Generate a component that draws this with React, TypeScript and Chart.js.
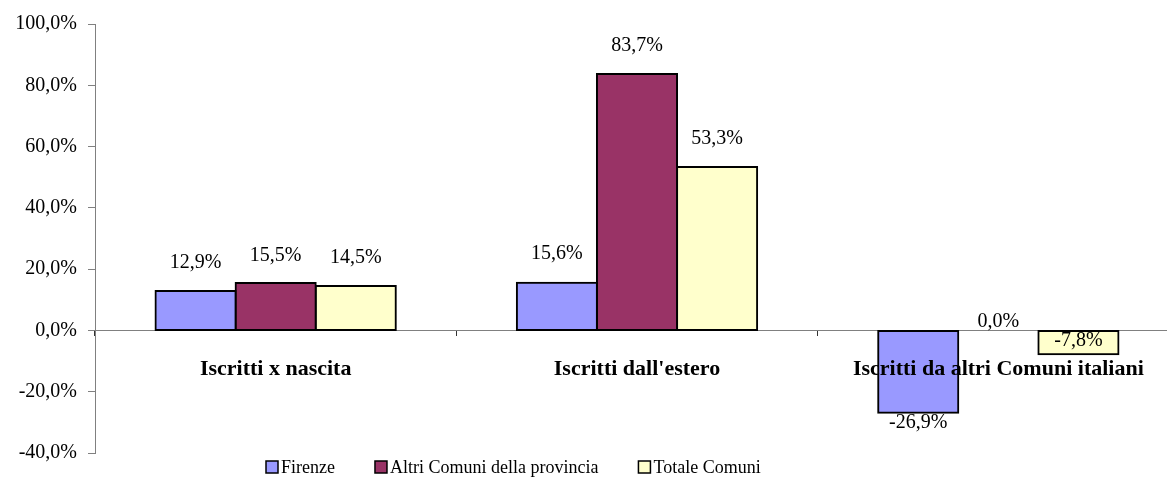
import React, { useEffect, useRef } from "react";
import { Chart, registerables } from "chart.js";

Chart.register(...registerables);

const categories = ["Iscritti x nascita", "Iscritti dall'estero", "Iscritti da altri Comuni italiani"];
const seriesNames = ["Firenze", "Altri Comuni della provincia", "Totale Comuni"];
const firenze = [12.9, 15.6, -26.9];
const altriComuni = [15.5, 83.7, 0.0];
const totaleComuni = [14.5, 53.3, -7.8];
const yTicks = [-40, -20, 0, 20, 40, 60, 80, 100];

const colors = ["#9999FF", "#993366", "#FFFFCC"];
const FONT = "'Liberation Serif', 'Times New Roman', serif";
// vertical offset of each value label from the bar end (style, per point)
const labelOffsets = [
  [-28, -29, 10],
  [-27, -28, -9],
  [-28, -28, -14],
];

const fmt = (v: number) => v.toFixed(1).replace(".", ",") + "%";

const valueLabels = {
  id: "valueLabels",
  afterDatasetsDraw(chart: any) {
    const ctx = chart.ctx;
    ctx.save();
    ctx.font = `20px ${FONT}`;
    ctx.fillStyle = "#000";
    ctx.textAlign = "center";
    ctx.textBaseline = "middle";
    chart.data.datasets.forEach((ds: any, di: number) => {
      const meta = chart.getDatasetMeta(di);
      meta.data.forEach((bar: any, i: number) => {
        const v = ds.data[i];
        ctx.fillText(fmt(v), bar.x, bar.y + labelOffsets[di][i]);
      });
    });
    ctx.restore();
  },
};

const bottomLegend = {
  id: "bottomLegend",
  afterDraw(chart: any) {
    const ctx = chart.ctx;
    ctx.save();
    ctx.font = `18px ${FONT}`;
    const box = 12;
    const gapText = 3;
    const gapItem = 40;
    const widths = chart.data.datasets.map((ds: any) => ctx.measureText(ds.label).width);
    let x = 266;
    const cy = 467;
    chart.data.datasets.forEach((ds: any, i: number) => {
      ctx.fillStyle = ds.backgroundColor;
      ctx.fillRect(x, cy - box / 2, box, box);
      ctx.strokeStyle = "#000";
      ctx.lineWidth = 1.5;
      ctx.strokeRect(x, cy - box / 2, box, box);
      ctx.fillStyle = "#000";
      ctx.textAlign = "left";
      ctx.textBaseline = "middle";
      ctx.fillText(ds.label, x + box + gapText, cy + 1);
      x += box + gapText + widths[i] + gapItem;
    });
    ctx.restore();
  },
};

export default function App() {
  const ref = useRef<HTMLCanvasElement>(null);
  useEffect(() => {
    document.body.style.margin = "0";
    document.body.style.overflow = "hidden";
    const data = [firenze, altriComuni, totaleComuni];
    const chart = new Chart(ref.current!, {
      type: "bar",
      data: {
        labels: categories,
        datasets: data.map((d, i) => ({
          label: seriesNames[i],
          data: d,
          backgroundColor: colors[i],
          borderColor: "#000",
          borderWidth: 2,
          borderSkipped: false,
          inflateAmount: 1,
          barPercentage: 1,
          categoryPercentage: 0.665,
        })),
      },
      options: {
        animation: false,
        responsive: false,
        layout: { padding: { top: 24, right: 0, bottom: 27, left: 0 } },
        plugins: {
          tooltip: { enabled: false },
          legend: { display: false },
        },
        scales: {
          x: {
            position: { y: 0 },
            grid: {
              drawOnChartArea: false,
              drawTicks: true,
              tickLength: 5,
              color: "#333",
            },
            border: { color: "#808080", width: 1 },
            ticks: {
              z: 1,
              font: { family: FONT, size: 22, weight: "bold" },
              color: "#000",
              padding: 21,
              maxRotation: 0,
              autoSkip: false,
            },
          },
          y: {
            min: -40,
            max: 100,
            afterBuildTicks: (s: any) => {
              s.ticks = yTicks.map((v) => ({ value: v }));
            },
            afterFit: (s: any) => {
              s.width = 95;
            },
            grid: {
              drawOnChartArea: false,
              drawTicks: true,
              tickLength: 7,
              color: "#808080",
            },
            border: { color: "#808080", width: 1 },
            ticks: {
              font: { family: FONT, size: 20 },
              color: "#000",
              padding: 11,
              callback: (v: any) => fmt(Number(v)),
            },
          },
        },
      },
      plugins: [valueLabels, bottomLegend],
    });
    return () => chart.destroy();
  }, []);
  return (
    <div style={{ width: 1167, height: 480, overflow: "hidden" }}>
      <canvas ref={ref} width={1179} height={480} style={{ display: "block" }} />
    </div>
  );
}
